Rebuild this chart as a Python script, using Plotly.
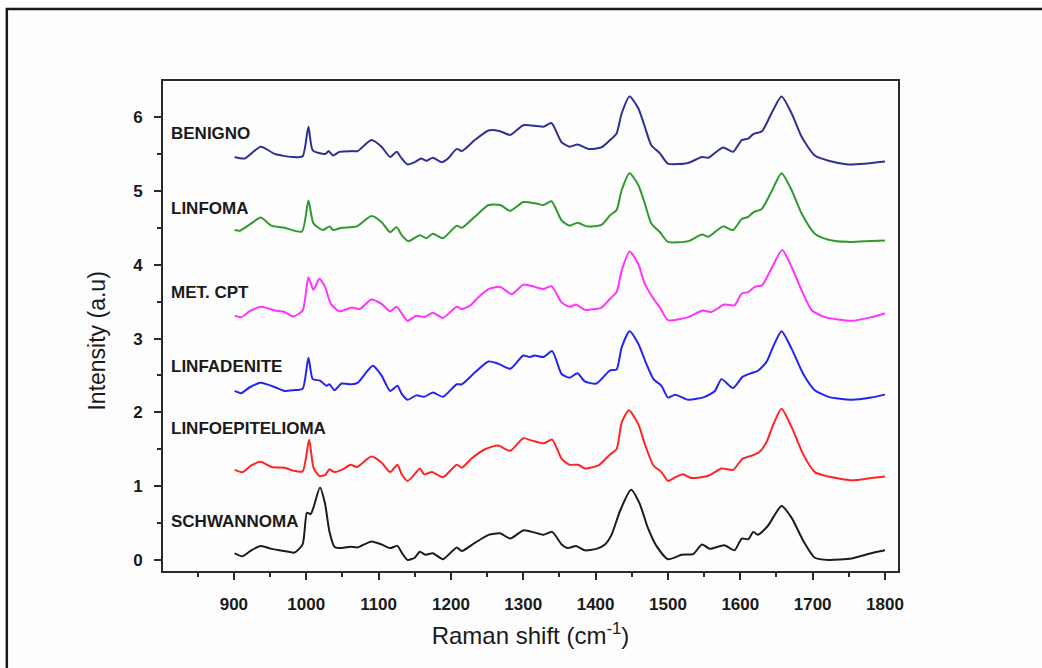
import plotly.graph_objects as go

# ---------------- data ----------------
names = ["BENIGNO", "LINFOMA", "MET. CPT", "LINFADENITE", "LINFOEPITELIOMA", "SCHWANNOMA"]
colors = ["#2e3192", "#30992f", "#ff33ff", "#2424f2", "#ff2424", "#1c1c1c"]
label_y = [5.78, 4.76, 3.62, 2.62, 1.78, 0.52]

benigno_x = [901, 915, 937, 957, 980, 995, 1003, 1009, 1026, 1031, 1037, 1046, 1063, 1071, 1090, 1104,
             1116, 1125, 1132, 1140, 1150, 1159, 1166, 1175, 1187, 1196, 1208, 1215, 1233, 1252, 1268,
             1282, 1300, 1318, 1328, 1339, 1353, 1364, 1375, 1390, 1408, 1420, 1429, 1436, 1447, 1459,
             1468, 1477, 1489, 1500, 1528, 1547, 1556, 1576, 1590, 1602, 1611, 1618, 1630, 1643, 1657,
             1671, 1685, 1703, 1722, 1749, 1772, 1800]
benigno_y = [5.46, 5.44, 5.60, 5.50, 5.46, 5.47, 5.87, 5.55, 5.50, 5.54, 5.48, 5.53, 5.54, 5.54, 5.69, 5.60,
             5.46, 5.53, 5.44, 5.36, 5.39, 5.44, 5.41, 5.45, 5.39, 5.44, 5.57, 5.54, 5.69, 5.82, 5.81,
             5.76, 5.89, 5.88, 5.87, 5.92, 5.66, 5.60, 5.63, 5.57, 5.59, 5.69, 5.78, 6.05, 6.28, 6.12,
             5.87, 5.62, 5.51, 5.37, 5.38, 5.46, 5.45, 5.59, 5.53, 5.69, 5.71, 5.77, 5.81, 6.05, 6.28,
             6.05, 5.73, 5.48, 5.41, 5.36, 5.37, 5.40]

linfoma_x = [901, 908, 924, 937, 952, 970, 994, 1003, 1010, 1023, 1032, 1037, 1049, 1070, 1090, 1104,
             1116, 1125, 1132, 1141, 1157, 1166, 1175, 1189, 1208, 1215, 1233, 1252, 1268, 1282, 1300,
             1318, 1328, 1339, 1353, 1364, 1375, 1388, 1408, 1420, 1429, 1436, 1447, 1459, 1468, 1477,
             1489, 1500, 1528, 1547, 1556, 1576, 1590, 1602, 1611, 1618, 1630, 1643, 1657, 1671, 1685,
             1703, 1722, 1749, 1772, 1800]
linfoma_y = [4.47, 4.46, 4.56, 4.64, 4.53, 4.50, 4.45, 4.87, 4.56, 4.47, 4.52, 4.47, 4.50, 4.52, 4.66, 4.58,
             4.44, 4.51, 4.40, 4.32, 4.40, 4.36, 4.42, 4.36, 4.53, 4.50, 4.65, 4.81, 4.81, 4.73, 4.85,
             4.83, 4.81, 4.86, 4.60, 4.53, 4.57, 4.52, 4.54, 4.67, 4.74, 5.01, 5.24, 5.08, 4.83, 4.56,
             4.44, 4.31, 4.32, 4.41, 4.38, 4.52, 4.47, 4.62, 4.65, 4.71, 4.76, 4.99, 5.24, 5.01, 4.69,
             4.42, 4.34, 4.31, 4.32, 4.33]

metcpt_x = [901, 910, 922, 937, 957, 970, 982, 995, 1003, 1010, 1018, 1026, 1034, 1046, 1063, 1074,
            1090, 1104, 1116, 1125, 1132, 1140, 1152, 1163, 1175, 1189, 1208, 1215, 1227, 1238, 1252,
            1268, 1284, 1300, 1316, 1328, 1339, 1353, 1364, 1373, 1385, 1408, 1420, 1429, 1436, 1447,
            1459, 1468, 1480, 1489, 1500, 1528, 1548, 1560, 1578, 1592, 1602, 1611, 1620, 1630, 1643,
            1658, 1671, 1685, 1699, 1717, 1754, 1781, 1800]
metcpt_y = [3.31, 3.29, 3.37, 3.43, 3.38, 3.36, 3.30, 3.38, 3.83, 3.66, 3.81, 3.70, 3.47, 3.37, 3.42, 3.40,
            3.53, 3.47, 3.37, 3.43, 3.34, 3.24, 3.31, 3.29, 3.35, 3.28, 3.43, 3.40, 3.45, 3.56, 3.67,
            3.70, 3.60, 3.73, 3.70, 3.67, 3.71, 3.49, 3.43, 3.46, 3.39, 3.42, 3.54, 3.63, 3.92, 4.18,
            4.01, 3.74, 3.54, 3.42, 3.25, 3.29, 3.38, 3.36, 3.46, 3.45, 3.61, 3.63, 3.70, 3.72, 3.95,
            4.20, 3.97, 3.65, 3.38, 3.29, 3.24, 3.29, 3.34]

linfad_x = [901, 910, 922, 937, 957, 970, 982, 995, 1003, 1009, 1019, 1028, 1032, 1039, 1049, 1063,
            1071, 1092, 1104, 1116, 1126, 1132, 1140, 1152, 1163, 1175, 1189, 1208, 1215, 1233, 1252,
            1265, 1282, 1300, 1309, 1316, 1328, 1340, 1353, 1364, 1375, 1385, 1401, 1420, 1429, 1436,
            1447, 1459, 1470, 1480, 1491, 1500, 1510, 1528, 1551, 1565, 1574, 1590, 1603, 1615, 1624,
            1636, 1645, 1657, 1671, 1687, 1703, 1722, 1754, 1781, 1800]
linfad_y = [2.29, 2.26, 2.34, 2.40, 2.34, 2.29, 2.30, 2.32, 2.74, 2.45, 2.43, 2.36, 2.38, 2.30, 2.39, 2.38,
            2.40, 2.63, 2.50, 2.29, 2.36, 2.25, 2.17, 2.23, 2.21, 2.27, 2.21, 2.38, 2.38, 2.54, 2.69,
            2.66, 2.59, 2.77, 2.75, 2.77, 2.75, 2.83, 2.52, 2.47, 2.53, 2.42, 2.39, 2.57, 2.58, 2.88,
            3.10, 2.93, 2.66, 2.45, 2.36, 2.20, 2.24, 2.17, 2.21, 2.29, 2.45, 2.33, 2.48, 2.53, 2.56,
            2.68, 2.88, 3.10, 2.86, 2.52, 2.30, 2.21, 2.17, 2.20, 2.24]

linfoep_x = [901, 912, 924, 937, 952, 970, 982, 995, 1004, 1010, 1018, 1026, 1032, 1039, 1051, 1061,
             1070, 1090, 1104, 1116, 1126, 1132, 1140, 1149, 1157, 1163, 1174, 1189, 1208, 1215, 1228,
             1247, 1265, 1282, 1300, 1311, 1328, 1340, 1353, 1364, 1376, 1385, 1404, 1420, 1429, 1436,
             1446, 1459, 1468, 1480, 1491, 1500, 1510, 1521, 1532, 1556, 1574, 1590, 1603, 1615, 1626,
             1636, 1645, 1657, 1671, 1687, 1703, 1722, 1754, 1781, 1800]
linfoep_y = [1.22, 1.19, 1.28, 1.33, 1.26, 1.25, 1.21, 1.20, 1.63, 1.25, 1.14, 1.15, 1.23, 1.19, 1.23, 1.29,
             1.26, 1.40, 1.32, 1.19, 1.29, 1.16, 1.07, 1.15, 1.24, 1.16, 1.19, 1.12, 1.29, 1.25, 1.37,
             1.50, 1.55, 1.48, 1.65, 1.62, 1.58, 1.63, 1.37, 1.29, 1.29, 1.24, 1.28, 1.43, 1.50, 1.86,
             2.03, 1.84, 1.57, 1.28, 1.19, 1.07, 1.12, 1.16, 1.11, 1.14, 1.24, 1.22, 1.37, 1.41, 1.46,
             1.59, 1.82, 2.05, 1.80, 1.43, 1.19, 1.13, 1.08, 1.11, 1.13]

schwan_x = [901, 912, 924, 937, 952, 970, 984, 995, 1001, 1006, 1010, 1019, 1026, 1032, 1039, 1049,
            1061, 1071, 1090, 1104, 1116, 1126, 1132, 1140, 1150, 1157, 1165, 1175, 1189, 1208, 1215,
            1233, 1252, 1268, 1282, 1300, 1316, 1328, 1340, 1353, 1362, 1373, 1385, 1401, 1413, 1422,
            1434, 1449, 1461, 1472, 1484, 1500, 1519, 1535, 1547, 1558, 1578, 1592, 1602, 1611, 1618,
            1624, 1638, 1657, 1671, 1687, 1703, 1722, 1754, 1781, 1800]
schwan_y = [0.09, 0.05, 0.13, 0.19, 0.15, 0.12, 0.10, 0.21, 0.64, 0.62, 0.71, 0.98, 0.76, 0.39, 0.18, 0.16,
            0.18, 0.17, 0.25, 0.21, 0.16, 0.19, 0.10, 0.00, 0.03, 0.11, 0.07, 0.09, 0.01, 0.17, 0.12,
            0.23, 0.34, 0.36, 0.29, 0.40, 0.37, 0.34, 0.38, 0.21, 0.16, 0.19, 0.13, 0.15, 0.21, 0.34,
            0.67, 0.95, 0.76, 0.44, 0.19, 0.01, 0.07, 0.08, 0.21, 0.15, 0.20, 0.13, 0.29, 0.28, 0.38,
            0.34, 0.46, 0.73, 0.57, 0.26, 0.03, 0.00, 0.02, 0.09, 0.13]

series_x = [benigno_x, linfoma_x, metcpt_x, linfad_x, linfoep_x, schwan_x]
series_y = [benigno_y, linfoma_y, metcpt_y, linfad_y, linfoep_y, schwan_y]

x_ticks = [900, 1000, 1100, 1200, 1300, 1400, 1500, 1600, 1700, 1800]
y_ticks = [0, 1, 2, 3, 4, 5, 6]

# ---------------- figure ----------------
fig = go.Figure()
for nm, col, xs, ys in zip(names, colors, series_x, series_y):
    fig.add_trace(go.Scatter(x=xs, y=ys, mode="lines", name=nm,
                             line=dict(color=col, width=2, shape="spline", smoothing=0.6),
                             showlegend=False, hoverinfo="skip"))

for nm, ly in zip(names, label_y):
    fig.add_annotation(x=810, y=ly, xref="x", yref="y", text=nm, showarrow=False,
                       xanchor="left", yanchor="middle",
                       font=dict(family="Liberation Sans", size=17, color="#1a1a1a", weight="bold"))

# y-axis title placed as in the reference
fig.add_annotation(x=-0.09, y=0.47, xref="paper", yref="paper", text="Intensity (a.u)",
                   showarrow=False, textangle=-90, xanchor="center", yanchor="middle",
                   font=dict(family="Liberation Sans", size=23, color="#1a1a1a"))

# outer frame of the picture
fig.add_shape(type="rect", xref="paper", yref="paper", x0=-0.2125, y0=-0.25, x1=1.25, y1=1.147,
              line=dict(color="#1a1a1a", width=2.5), fillcolor="rgba(0,0,0,0)", layer="below")

axis_common = dict(showgrid=False, zeroline=False, showline=True, linecolor="#2a2a2a", linewidth=1.8,
                   mirror=True, ticks="outside", ticklen=7, tickwidth=1.5, tickcolor="#2a2a2a",
                   tickfont=dict(family="Liberation Sans", size=17, color="#1a1a1a", weight="bold"))

fig.update_xaxes(range=[802, 1818], tickvals=x_ticks, ticklabelstandoff=10,
                 minor=dict(dtick=100, tick0=850, ticks="outside", ticklen=4, tickwidth=1.5,
                            tickcolor="#2a2a2a"),
                 title=dict(text="Raman shift (cm<sup>-1</sup>)",
                            font=dict(family="Liberation Sans", size=24, color="#1a1a1a"), standoff=14),
                 **axis_common)
fig.update_yaxes(range=[-0.15, 6.49], tickvals=y_ticks, ticklabelstandoff=8,
                 minor=dict(dtick=1, tick0=0.5, ticks="outside", ticklen=4, tickwidth=1.5,
                            tickcolor="#2a2a2a"),
                 **axis_common)

fig.update_layout(width=1042, height=668, margin=dict(l=163, r=144, t=81, b=97),
                  paper_bgcolor="#fdfdfd", plot_bgcolor="#fdfdfd")

fig.write_html("out.html")
